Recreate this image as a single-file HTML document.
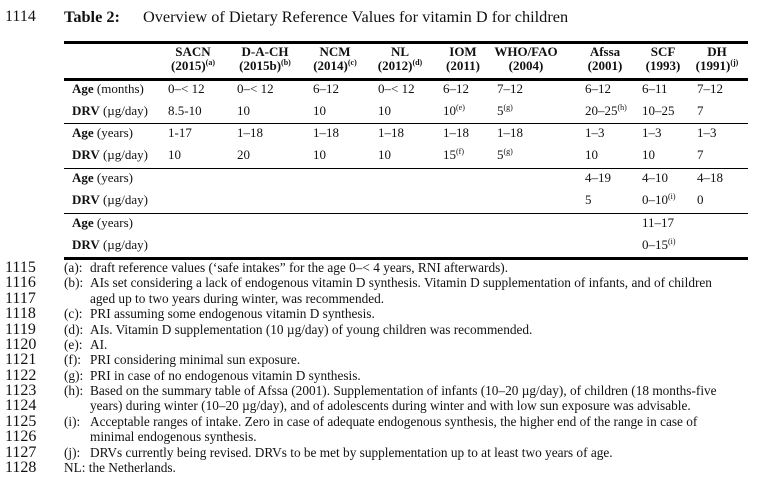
<!DOCTYPE html>
<html><head><meta charset="utf-8"><style>
body{margin:0;width:758px;height:482px;background:#fff;position:relative;overflow:hidden;font-family:"Liberation Serif",serif;color:#111}
div{position:absolute;white-space:nowrap}
.t{font-size:13px;line-height:14px}
.h{font-size:13px;font-weight:bold;text-align:center;line-height:14px}
.n{font-size:16px;left:5px;line-height:16px}
.f{font-size:13.3px;line-height:14px}
.l{left:64px;width:684px;background:#000}
sup{font-size:8px;vertical-align:5px;line-height:0}
b{font-weight:bold}
.f span{position:absolute;left:26px}
</style></head><body>
<div style="left:5px;top:8px;font-size:16px">1114</div>
<div style="left:64px;top:7px;font-size:16.3px"><b>Table 2:</b></div>
<div style="left:143px;top:7px;font-size:16.3px">Overview of Dietary Reference Values for vitamin D for children</div>
<div class="l" style="top:41px;height:3px"></div>
<div class="h" style="left:163px;width:60px;top:45px">SACN<br>(2015)<sup>(a)</sup></div>
<div class="h" style="left:232px;width:66px;top:45px">D-A-CH<br>(2015b)<sup>(b)</sup></div>
<div class="h" style="left:307px;width:56px;top:45px">NCM<br>(2014)<sup>(c)</sup></div>
<div class="h" style="left:372px;width:56px;top:45px">NL<br>(2012)<sup>(d)</sup></div>
<div class="h" style="left:438px;width:50px;top:45px">IOM<br>(2011)</div>
<div class="h" style="left:490px;width:72px;top:45px">WHO/FAO<br>(2004)</div>
<div class="h" style="left:580px;width:50px;top:45px">Afssa<br>(2001)</div>
<div class="h" style="left:638px;width:50px;top:45px">SCF<br>(1993)</div>
<div class="h" style="left:690px;width:54px;top:45px">DH<br>(1991)<sup>(j)</sup></div>
<div class="l" style="top:78px;height:3px"></div>
<div class="t" style="left:72px;top:82px"><b>Age</b> (months)</div>
<div class="t" style="left:72px;top:104px"><b>DRV</b> (µg/day)</div>
<div class="l" style="top:123px;height:1px"></div>
<div class="t" style="left:72px;top:126px"><b>Age</b> (years)</div>
<div class="t" style="left:72px;top:148px"><b>DRV</b> (µg/day)</div>
<div class="l" style="top:168px;height:1px"></div>
<div class="t" style="left:72px;top:171px"><b>Age</b> (years)</div>
<div class="t" style="left:72px;top:193px"><b>DRV</b> (µg/day)</div>
<div class="l" style="top:213px;height:1px"></div>
<div class="t" style="left:72px;top:216px"><b>Age</b> (years)</div>
<div class="t" style="left:72px;top:238px"><b>DRV</b> (µg/day)</div>
<div class="l" style="top:257px;height:3px"></div>

<div class="t" style="left:168px;top:82px">0–&lt; 12</div>
<div class="t" style="left:237px;top:82px">0–&lt; 12</div>
<div class="t" style="left:313px;top:82px">6–12</div>
<div class="t" style="left:378px;top:82px">0–&lt; 12</div>
<div class="t" style="left:443px;top:82px">6–12</div>
<div class="t" style="left:497px;top:82px">7–12</div>
<div class="t" style="left:585px;top:82px">6–12</div>
<div class="t" style="left:642px;top:82px">6–11</div>
<div class="t" style="left:697px;top:82px">7–12</div>

<div class="t" style="left:168px;top:104px">8.5-10</div>
<div class="t" style="left:237px;top:104px">10</div>
<div class="t" style="left:313px;top:104px">10</div>
<div class="t" style="left:378px;top:104px">10</div>
<div class="t" style="left:443px;top:104px">10<sup>(e)</sup></div>
<div class="t" style="left:497px;top:104px">5<sup>(g)</sup></div>
<div class="t" style="left:585px;top:104px">20–25<sup>(h)</sup></div>
<div class="t" style="left:642px;top:104px">10–25</div>
<div class="t" style="left:697px;top:104px">7</div>

<div class="t" style="left:168px;top:126px">1-17</div>
<div class="t" style="left:237px;top:126px">1–18</div>
<div class="t" style="left:313px;top:126px">1–18</div>
<div class="t" style="left:378px;top:126px">1–18</div>
<div class="t" style="left:443px;top:126px">1–18</div>
<div class="t" style="left:497px;top:126px">1–18</div>
<div class="t" style="left:585px;top:126px">1–3</div>
<div class="t" style="left:642px;top:126px">1–3</div>
<div class="t" style="left:697px;top:126px">1–3</div>

<div class="t" style="left:168px;top:148px">10</div>
<div class="t" style="left:237px;top:148px">20</div>
<div class="t" style="left:313px;top:148px">10</div>
<div class="t" style="left:378px;top:148px">10</div>
<div class="t" style="left:443px;top:148px">15<sup>(f)</sup></div>
<div class="t" style="left:497px;top:148px">5<sup>(g)</sup></div>
<div class="t" style="left:585px;top:148px">10</div>
<div class="t" style="left:642px;top:148px">10</div>
<div class="t" style="left:697px;top:148px">7</div>

<div class="t" style="left:585px;top:171px">4–19</div>
<div class="t" style="left:642px;top:171px">4–10</div>
<div class="t" style="left:697px;top:171px">4–18</div>
<div class="t" style="left:585px;top:193px">5</div>
<div class="t" style="left:642px;top:193px">0–10<sup>(i)</sup></div>
<div class="t" style="left:697px;top:193px">0</div>
<div class="t" style="left:642px;top:216px">11–17</div>
<div class="t" style="left:642px;top:238px">0–15<sup>(i)</sup></div>

<div class="n" style="top:260px">1115</div>
<div class="n" style="top:275px">1116</div>
<div class="n" style="top:291px">1117</div>
<div class="n" style="top:306px">1118</div>
<div class="n" style="top:322px">1119</div>
<div class="n" style="top:337px">1120</div>
<div class="n" style="top:352px">1121</div>
<div class="n" style="top:368px">1122</div>
<div class="n" style="top:383px">1123</div>
<div class="n" style="top:398px">1124</div>
<div class="n" style="top:414px">1125</div>
<div class="n" style="top:429px">1126</div>
<div class="n" style="top:445px">1127</div>
<div class="n" style="top:460px">1128</div>

<div class="f" style="left:64px;top:261px">(a):<span>draft reference values (‘safe intakes” for the age 0–&lt; 4 years, RNI afterwards).</span></div>
<div class="f" style="left:64px;top:276px">(b):<span>AIs set considering a lack of endogenous vitamin D synthesis. Vitamin D supplementation of infants, and of children</span></div>
<div class="f" style="left:90px;top:292px">aged up to two years during winter, was recommended.</div>
<div class="f" style="left:64px;top:307px">(c):<span>PRI assuming some endogenous vitamin D synthesis.</span></div>
<div class="f" style="left:64px;top:323px">(d):<span>AIs. Vitamin D supplementation (10 µg/day) of young children was recommended.</span></div>
<div class="f" style="left:64px;top:338px">(e):<span>AI.</span></div>
<div class="f" style="left:64px;top:353px">(f):<span>PRI considering minimal sun exposure.</span></div>
<div class="f" style="left:64px;top:369px">(g):<span>PRI in case of no endogenous vitamin D synthesis.</span></div>
<div class="f" style="left:64px;top:384px">(h):<span>Based on the summary table of Afssa (2001). Supplementation of infants (10–20 µg/day), of children (18 months-five</span></div>
<div class="f" style="left:90px;top:399px">years) during winter (10–20 µg/day), and of adolescents during winter and with low sun exposure was advisable.</div>
<div class="f" style="left:64px;top:415px">(i):<span>Acceptable ranges of intake. Zero in case of adequate endogenous synthesis, the higher end of the range in case of</span></div>
<div class="f" style="left:90px;top:430px">minimal endogenous synthesis.</div>
<div class="f" style="left:64px;top:446px">(j):<span>DRVs currently being revised. DRVs to be met by supplementation up to at least two years of age.</span></div>
<div class="f" style="left:64px;top:461px">NL: the Netherlands.</div>
</body></html>
